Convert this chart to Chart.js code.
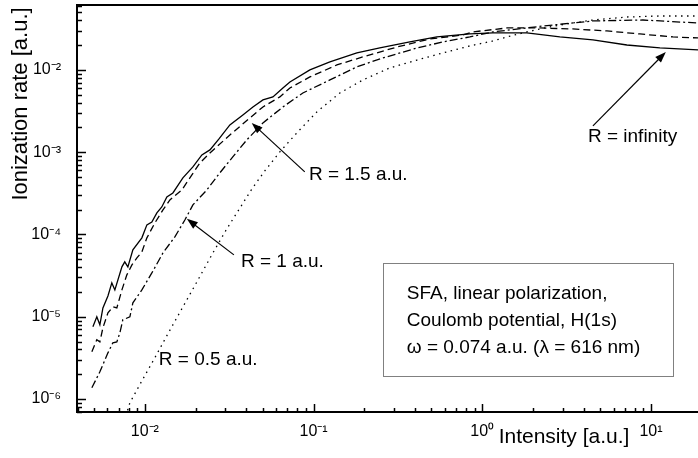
<!DOCTYPE html>
<html>
<head>
<meta charset="utf-8">
<script src="https://cdn.jsdelivr.net/npm/chart.js@4.4.1/dist/chart.umd.min.js"></script>
<style>
  body { margin: 0; background: #fff; }
  #wrap { width: 698px; height: 458px; position: relative; }
</style>
</head>
<body>
<div id="wrap"><canvas id="rateChart"></canvas></div>
<script>
// R = infinity (solid)
const xInf = [0.00492, 0.00519, 0.00541, 0.00564, 0.00604, 0.00637, 0.00664, 0.00731, 0.0076, 0.00793,
  0.00849, 0.0096, 0.01028, 0.011, 0.01178, 0.0126, 0.0135, 0.01466, 0.0168, 0.01926, 0.02177, 0.0243,
  0.0275, 0.0319, 0.0381, 0.0437, 0.0501, 0.0574, 0.0658, 0.0724, 0.0951, 0.125, 0.1806, 0.247, 0.372,
  0.538, 0.844, 1.156, 1.837, 2.884, 4.53, 7.2, 11.3, 19];
const yInf = [7.54e-6, 9.97e-6, 7.97e-6, 1.28e-5, 1.79e-5, 2.58e-5, 2.12e-5, 4.04e-5, 4.65e-5, 4.04e-5,
  6.5e-5, 9.1e-5, 1.31e-4, 1.42e-4, 1.83e-4, 2.16e-4, 2.86e-4, 3.2e-4, 4.87e-4, 6.63e-4, 9.27e-4, 1.067e-3,
  1.45e-3, 2.15e-3, 2.84e-3, 3.55e-3, 4.32e-3, 4.7e-3, 6.04e-3, 7.15e-3, 0.01, 0.0125, 0.0161, 0.0185, 0.0219,
  0.0252, 0.0274, 0.0282, 0.0282, 0.0252, 0.0232, 0.0201, 0.0185, 0.0175];

// R = 1.5 a.u. (dashed)
const x15 = [0.00485, 0.00519, 0.00541, 0.00564, 0.00604, 0.00646, 0.00682, 0.00731, 0.00782, 0.00838,
  0.00897, 0.0096, 0.01028, 0.01146, 0.0128, 0.01407, 0.01657, 0.019, 0.0212, 0.0243, 0.0319, 0.0419,
  0.0501, 0.0631, 0.0724, 0.0951, 0.1375, 0.196, 0.312, 0.489, 0.767, 0.879, 1.4, 2.19, 3.44, 5.48, 8.6, 13.5, 19];
const y15 = [3.75e-6, 5.24e-6, 4.95e-6, 7.33e-6, 1.115e-5, 1.32e-5, 1.28e-5, 2.12e-5, 3.23e-5, 4.27e-5,
  5.2e-5, 6.14e-5, 9.1e-5, 1.38e-4, 1.99e-4, 2.63e-4, 3.48e-4, 5.3e-4, 7.41e-4, 9.8e-4, 1.62e-3, 2.61e-3,
  3.55e-3, 4.7e-3, 6.04e-3, 8.22e-3, 0.0115, 0.0144, 0.019, 0.0238, 0.0266, 0.029, 0.0324, 0.0324, 0.0315,
  0.0298, 0.0274, 0.0252, 0.0245];

// R = 1 a.u. (dash-dot)
const x10 = [0.00485, 0.00541, 0.00604, 0.00646, 0.00682, 0.00711, 0.0074, 0.00815, 0.00849, 0.0096,
  0.011, 0.0128, 0.01506, 0.01726, 0.01926, 0.0233, 0.0278, 0.0332, 0.0402, 0.0501, 0.0658, 0.0864,
  0.125, 0.1806, 0.2575, 0.41, 0.584, 0.844, 1.156, 2.29, 4.53, 8.95, 19];
const y10 = [1.37e-6, 2.14e-6, 3.64e-6, 4.82e-6, 4.95e-6, 6.37e-6, 9.17e-6, 9.97e-6, 1.475e-5, 2.12e-5,
  3.41e-5, 5.97e-5, 9.35e-5, 1.5e-4, 2.29e-4, 3.48e-4, 5.6e-4, 8.77e-4, 1.41e-3, 2.27e-3, 3.55e-3, 5.25e-3,
  7.56e-3, 0.0109, 0.014, 0.0185, 0.0219, 0.0252, 0.029, 0.0342, 0.0394, 0.0405, 0.0372];

// R = 0.5 a.u. (dotted)
const x05 = [0.0077, 0.00815, 0.0096, 0.01146, 0.01369, 0.01657, 0.02033, 0.0253, 0.0306, 0.0366, 0.0431,
  0.0514, 0.0631, 0.0796, 0.1046, 0.1432, 0.196, 0.2834, 0.41, 0.584, 0.844, 1.156, 1.4, 1.837, 2.35,
  2.884, 4.53, 7.2, 11.3, 19];
const y05 = [6.2e-7, 8.99e-7, 1.66e-6, 3.17e-6, 6.2e-6, 1.25e-5, 2.65e-5, 5.97e-5, 1.17e-4, 2.1e-4, 3.58e-4,
  5.93e-4, 1.008e-3, 1.72e-3, 3.09e-3, 5.25e-3, 7.56e-3, 0.0106, 0.0132, 0.0161, 0.0196, 0.0225, 0.0252,
  0.029, 0.0324, 0.0352, 0.0405, 0.044, 0.0453, 0.0453];

const xTickValues = [0.01, 0.1, 1, 10];
const xTickLabels = ["10\u207B\u00B2", "10\u207B\u00B9", "10\u2070", "10\u00B9"];
const yTickValues = [1e-6, 1e-5, 1e-4, 1e-3, 1e-2];
const yTickLabels = ["10\u207B\u2076", "10\u207B\u2075", "10\u207B\u2074", "10\u207B\u00B3", "10\u207B\u00B2"];

const FONT = "Liberation Sans, Arial, Helvetica, sans-serif";

// labels placed in data units
const notes = [
  { text: "R = infinity", x: 4.23, y: 1.53e-3, tail: [4.53, 2.09e-3], tip: [12.25, 0.01655] },
  { text: "R = 1.5 a.u.", x: 0.0938, y: 5.3e-4, tail: [0.0887, 5.76e-4], tip: [0.043, 2.27e-3] },
  { text: "R = 1 a.u.", x: 0.0371, y: 4.65e-5, tail: [0.0337, 5.65e-5], tip: [0.01774, 1.55e-4] },
  { text: "R = 0.5 a.u.", x: 0.0121, y: 2.99e-6 },
];
const boxLines = ["SFA, linear polarization,", "Coulomb potential, H(1s)", "\u03C9 = 0.074 a.u. (\u03BB = 616 nm)"];

function pairs(xs, ys) {
  return xs.map((x, i) => ({ x: x, y: ys[i] }));
}

function isMajor(v, list) {
  return list.some((m) => Math.abs(Math.log10(m) - Math.log10(v)) < 1e-6);
}

// 1..9 x 10^n ticks within range
function logTicks(scale, majors) {
  const ticks = [];
  const lo = Math.floor(Math.log10(scale.min));
  const hi = Math.ceil(Math.log10(scale.max));
  for (let d = lo; d <= hi; d++) {
    for (let m = 1; m <= 9; m++) {
      const v = m * Math.pow(10, d);
      if (v >= scale.min * 0.999 && v <= scale.max * 1.001) {
        ticks.push({ value: v, major: isMajor(v, majors) });
      }
    }
  }
  scale.ticks = ticks;
}

function tickLabel(majors, labels) {
  return function (value) {
    for (let i = 0; i < majors.length; i++) {
      if (Math.abs(Math.log10(majors[i]) - Math.log10(value)) < 1e-6) return labels[i];
    }
    return "";
  };
}

function arrow(ctx, x1, y1, x2, y2) {
  const a = Math.atan2(y2 - y1, x2 - x1);
  const len = 11, half = 4;
  ctx.beginPath();
  ctx.moveTo(x1, y1);
  ctx.lineTo(x2 - Math.cos(a) * len * 0.8, y2 - Math.sin(a) * len * 0.8);
  ctx.stroke();
  ctx.beginPath();
  ctx.moveTo(x2, y2);
  ctx.lineTo(x2 - Math.cos(a) * len + Math.sin(a) * half, y2 - Math.sin(a) * len - Math.cos(a) * half);
  ctx.lineTo(x2 - Math.cos(a) * len - Math.sin(a) * half, y2 - Math.sin(a) * len + Math.cos(a) * half);
  ctx.closePath();
  ctx.fill();
}

const decorPlugin = {
  id: "decor",
  afterDraw(chart) {
    const ctx = chart.ctx;
    const xs = chart.scales.x, ys = chart.scales.y;
    const area = chart.chartArea;
    ctx.save();
    ctx.strokeStyle = "#000";
    ctx.fillStyle = "#000";

    // inward tick marks
    ctx.lineWidth = 1.5;
    xs.ticks.forEach((t) => {
      const px = Math.round(xs.getPixelForValue(t.value)) + 0.5;
      const len = t.major ? 8 : 4;
      ctx.beginPath();
      ctx.moveTo(px, area.bottom);
      ctx.lineTo(px, area.bottom - len);
      ctx.stroke();
    });
    ys.ticks.forEach((t) => {
      const py = Math.round(ys.getPixelForValue(t.value)) + 0.5;
      const len = t.major ? 9 : 5;
      ctx.beginPath();
      ctx.moveTo(area.left, py);
      ctx.lineTo(area.left + len, py);
      ctx.stroke();
    });

    // top frame line
    ctx.lineWidth = 2;
    ctx.beginPath();
    ctx.moveTo(area.left, area.top);
    ctx.lineTo(area.right, area.top);
    ctx.stroke();

    // axis titles
    ctx.textBaseline = "middle";
    ctx.textAlign = "center";
    ctx.font = "21px " + FONT;
    ctx.fillText("Intensity [a.u.]", 564, 437);
    ctx.save();
    ctx.font = "22px " + FONT;
    ctx.translate(21, 104);
    ctx.rotate(-Math.PI / 2);
    ctx.fillText("Ionization rate [a.u.]", 0, 0);
    ctx.restore();

    // annotations with arrows
    ctx.font = "19px " + FONT;
    ctx.textAlign = "left";
    ctx.lineWidth = 1.2;
    notes.forEach((n) => {
      ctx.fillText(n.text, xs.getPixelForValue(n.x), ys.getPixelForValue(n.y));
      if (n.tip) {
        arrow(ctx,
          xs.getPixelForValue(n.tail[0]), ys.getPixelForValue(n.tail[1]),
          xs.getPixelForValue(n.tip[0]), ys.getPixelForValue(n.tip[1]));
      }
    });

    // info box
    const bx1 = xs.getPixelForValue(0.2577), bx2 = xs.getPixelForValue(13.5);
    const by1 = ys.getPixelForValue(4.52e-5), by2 = ys.getPixelForValue(1.91e-6);
    ctx.fillStyle = "#fff";
    ctx.fillRect(bx1, by1, bx2 - bx1, by2 - by1);
    ctx.strokeStyle = "#808080";
    ctx.lineWidth = 1;
    ctx.strokeRect(Math.round(bx1) + 0.5, Math.round(by1) + 0.5, Math.round(bx2 - bx1), Math.round(by2 - by1));
    ctx.fillStyle = "#000";
    const tx = xs.getPixelForValue(0.357);
    boxLines.forEach((line, i) => {
      ctx.fillText(line, tx, by1 + 31 + i * 27);
    });
    ctx.restore();
  },
};

const ctx = document.getElementById("rateChart").getContext("2d");
const rateChart = new Chart(ctx, {
  type: "scatter",
  data: {
    datasets: [
      { label: "R = infinity", data: pairs(xInf, yInf), borderDash: [] },
      { label: "R = 1.5 a.u.", data: pairs(x15, y15), borderDash: [7, 4] },
      { label: "R = 1 a.u.", data: pairs(x10, y10), borderDash: [8, 3, 2, 3] },
      { label: "R = 0.5 a.u.", data: pairs(x05, y05), borderDash: [1.5, 4.5] },
    ].map((d) => Object.assign(d, {
      showLine: true,
      borderColor: "#000",
      backgroundColor: "#000",
      borderWidth: 1.3,
      pointRadius: 0,
      tension: 0,
    })),
  },
  options: {
    responsive: true,
    maintainAspectRatio: false,
    animation: false,
    layout: { padding: { top: 5, left: 0, right: 0, bottom: 0 } },
    plugins: { legend: { display: false }, tooltip: { enabled: false } },
    scales: {
      x: {
        type: "logarithmic",
        min: 0.00396,
        max: 19,
        grid: { display: false, drawTicks: false },
        border: { display: true, color: "#000", width: 2 },
        afterBuildTicks: (s) => logTicks(s, xTickValues),
        afterFit: (s) => { s.height = 46; s.paddingLeft = 0; s.paddingRight = 0; },
        ticks: {
          autoSkip: false,
          maxRotation: 0,
          padding: 10,
          color: "#000",
          font: { family: FONT, size: 16 },
          callback: tickLabel(xTickValues, xTickLabels),
        },
      },
      y: {
        type: "logarithmic",
        min: 6.95e-7,
        max: 0.0616,
        grid: { display: false, drawTicks: false },
        border: { display: true, color: "#000", width: 2 },
        afterBuildTicks: (s) => logTicks(s, yTickValues),
        afterFit: (s) => { s.width = 77; s.paddingTop = 0; s.paddingBottom = 0; },
        ticks: {
          autoSkip: false,
          padding: 16,
          color: "#000",
          font: { family: FONT, size: 16 },
          callback: tickLabel(yTickValues, yTickLabels),
        },
      },
    },
  },
  plugins: [decorPlugin],
});
</script>
</body>
</html>
